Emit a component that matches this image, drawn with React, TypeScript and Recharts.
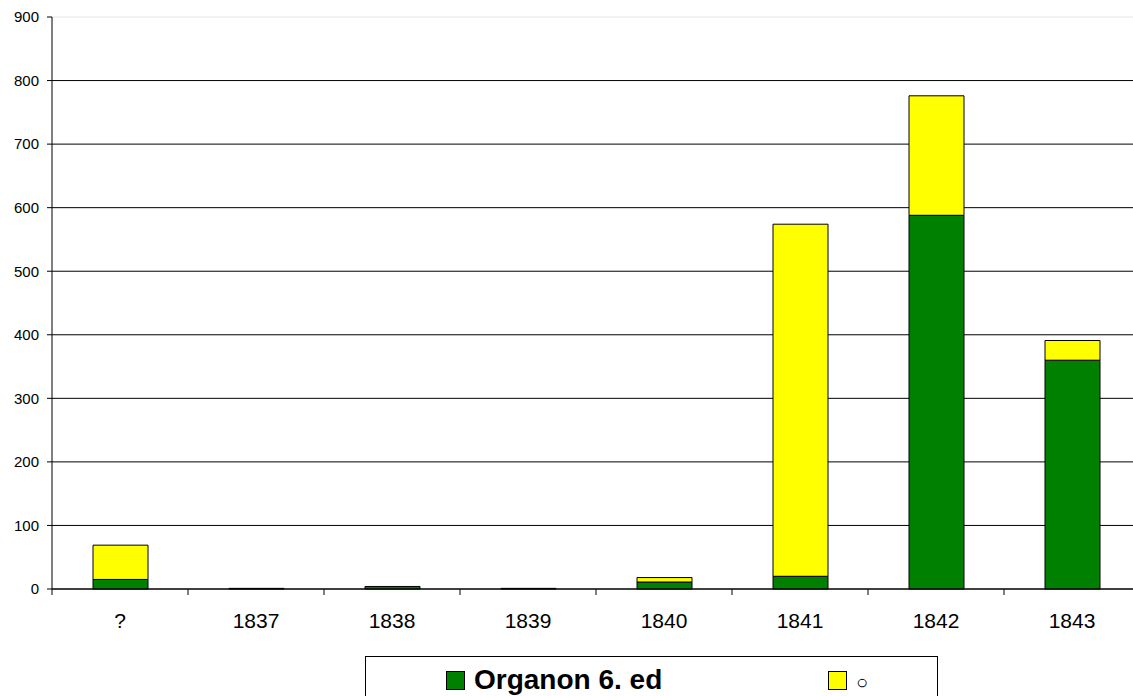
import React from "react";
import { Bar, BarChart, CartesianGrid, XAxis, YAxis } from "recharts";

const categories = ["?", "1837", "1838", "1839", "1840", "1841", "1842", "1843"];
const organonValues = [15, 1, 4, 1, 11, 20, 588, 360];
const otherValues = [54, 0, 0, 0, 7, 554, 188, 31];
const seriesNames = ["Organon 6. ed", "○"];
const yTicks = [0, 100, 200, 300, 400, 500, 600, 700, 800, 900];

const data = categories.map((name, i) => ({
  name,
  organon: organonValues[i],
  other: otherValues[i],
}));

const CHART_W = 1140;
const CHART_H = 696;
const AXIS_W = 52;
const BAND = (CHART_W - AXIS_W) / categories.length;
const FONT = "'Liberation Sans', Arial, sans-serif";

const XTick = (props: any) => {
  const { x, y, payload, index } = props;
  return (
    <g>
      <line x1={x - BAND / 2} y1={y} x2={x - BAND / 2} y2={y + 6} stroke="#000" />
      {index === categories.length - 1 && (
        <line x1={x + BAND / 2} y1={y} x2={x + BAND / 2} y2={y + 6} stroke="#000" />
      )}
      <text x={x} y={y + 39} textAnchor="middle" fontSize={21} fontFamily={FONT} fill="#000">
        {payload.value}
      </text>
    </g>
  );
};

const gridLine = (props: any) => {
  const { x1, x2, y1, y2 } = props;
  return (
    <line
      key={`g-${y1}`}
      x1={x1}
      x2={x2}
      y1={y1}
      y2={y2}
      stroke={y1 < 20 ? "#e6e6e6" : "#000"}
      strokeWidth={1}
    />
  );
};

export default function App() {
  return (
    <div
      style={{
        position: "absolute",
        left: 0,
        top: 0,
        width: 1133,
        height: 696,
        overflow: "hidden",
        background: "#fff",
        fontFamily: FONT,
      }}
    >
      <BarChart
        width={CHART_W}
        height={CHART_H}
        data={data}
        margin={{ top: 17, right: 0, left: 0, bottom: 67 }}
        barSize={55}
      >
        <CartesianGrid vertical={false} horizontal={gridLine} />
        <XAxis
          dataKey="name"
          tick={<XTick />}
          tickLine={false}
          tickSize={0}
          tickMargin={0}
          height={40}
          axisLine={{ stroke: "#000" }}
          interval={0}
        />
        <YAxis
          width={AXIS_W}
          domain={[0, 900]}
          ticks={yTicks}
          interval={0}
          tickSize={5}
          tickMargin={8}
          tickLine={{ stroke: "#000" }}
          axisLine={{ stroke: "#000" }}
          tick={{ fontSize: 15, fill: "#000", fontFamily: FONT }}
        />
        <Bar
          dataKey="organon"
          name={seriesNames[0]}
          stackId="a"
          fill="#008000"
          stroke="#000"
          strokeWidth={1}
          isAnimationActive={false}
        />
        <Bar
          dataKey="other"
          name={seriesNames[1]}
          stackId="a"
          fill="#ffff00"
          stroke="#000"
          strokeWidth={1}
          isAnimationActive={false}
        />
      </BarChart>
      <svg
        width={573}
        height={60}
        style={{ position: "absolute", left: 365, top: 656 }}
      >
        <rect x={0.5} y={0.5} width={572} height={70} fill="#fff" stroke="#000" />
        <rect x={81.5} y={15.5} width={18} height={18} fill="#008000" stroke="#000" />
        <text x={109} y={33} fontSize={28} fontWeight="bold" fontFamily={FONT} fill="#000">
          {seriesNames[0]}
        </text>
        <rect x={463.5} y={15.5} width={18} height={18} fill="#ffff00" stroke="#000" />
        <text x={491} y={33} fontSize={20} fontFamily={FONT} fill="#000">
          {seriesNames[1]}
        </text>
      </svg>
    </div>
  );
}
